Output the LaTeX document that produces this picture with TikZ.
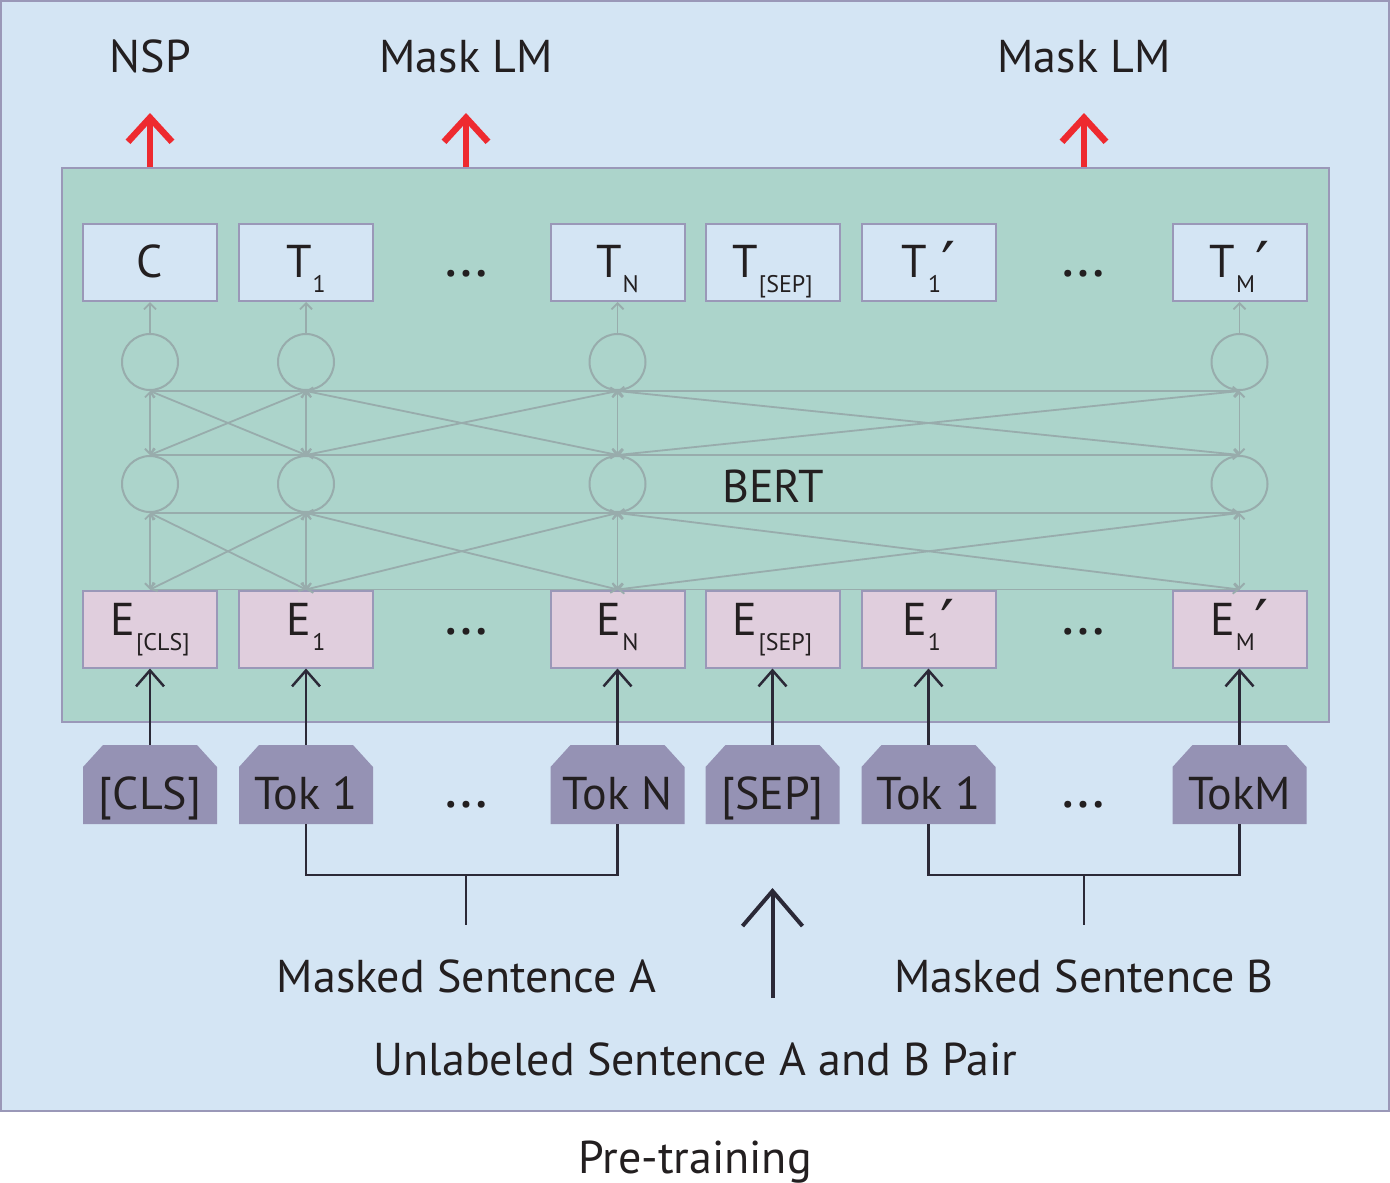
\documentclass[tikz,border=0pt]{standalone}
\usepackage{fontspec}
\setmainfont{PT Sans}
\newfontfamily\dejavu{DejaVu Sans}
\usetikzlibrary{arrows.meta}
\definecolor{outerbg}{HTML}{D4E5F4}
\definecolor{framec}{HTML}{9A98B8}
\definecolor{bertbg}{HTML}{ACD4CB}
\definecolor{tboxc}{HTML}{D4E5F4}
\definecolor{eboxc}{HTML}{E0CEDD}
\definecolor{tokc}{HTML}{9592B4}
\definecolor{netc}{HTML}{98ACAC}
\definecolor{redc}{HTML}{EE2A2F}
\definecolor{darkc}{HTML}{2B2937}
\definecolor{txtc}{HTML}{231F20}
\newcommand\bigf{\fontsize{46}{54}\selectfont}
\newcommand\subf{\fontsize{24}{28}\selectfont}
\newcommand\dotf{\fontsize{60}{60}\selectfont}
\newcommand\sbs[2]{#1\kern1pt\raisebox{-15pt}{\subf #2}}
\newcommand\sbp[2]{#1\kern1pt\raisebox{-15pt}{\subf #2}\kern0pt\raisebox{-9pt}{\dejavu\fontsize{62}{62}\selectfont ′}}
\begin{document}
\begin{tikzpicture}[x=1pt,y=-1pt,
  every node/.style={text=txtc, font=\bigf},
  outerbox/.style={draw=framec, line width=2pt, fill=outerbg, inner sep=0pt},
  bertbox/.style={draw=framec, line width=2pt, fill=bertbg, inner sep=0pt},
  tbox/.style={draw=framec, line width=2pt, fill=tboxc, minimum width=134pt, minimum height=77pt, inner sep=0pt, text height=40pt, text depth=11pt},
  ebox/.style={draw=framec, line width=2pt, fill=eboxc, minimum width=134pt, minimum height=77pt, inner sep=0pt, text height=35pt, text depth=23pt},
  tokbox/.style={rectangle, draw=none, minimum width=134pt, minimum height=79pt, inner sep=0pt, text height=55pt, text depth=6pt,
    path picture={\fill[tokc] ([yshift=-22pt]path picture bounding box.north west)
      -- ([xshift=20pt]path picture bounding box.north west)
      -- ([xshift=-20pt]path picture bounding box.north east)
      -- ([yshift=-22pt]path picture bounding box.north east)
      -- (path picture bounding box.south east)
      -- (path picture bounding box.south west) -- cycle;}},
  neuron/.style={circle, draw=netc, line width=2pt, minimum size=56pt, inner sep=0pt},
  netline/.style={netc, line width=1.8pt, >={Straight Barb[length=5pt,width=10pt]}, <->},
  netplain/.style={netc, line width=1.8pt},
  netup/.style={netc, line width=1.8pt, -{Straight Barb[length=6pt,width=12pt]}},
  redarrow/.style={redc, line width=6.5pt, -{Straight Barb[length=24pt,width=44pt]}},
  inarrow/.style={darkc, line width=2.5pt, -{Straight Barb[length=16pt,width=28pt]}},
  bigarrow/.style={darkc, line width=4pt, -{Straight Barb[length=35pt,width=60pt]}},
  bracket/.style={darkc, line width=2.5pt},
  lbl/.style={anchor=base, inner sep=0pt},
  dotlbl/.style={anchor=base, inner sep=0pt, font=\dotf}
]
\useasboundingbox (0,0) rectangle (1390,1183);
\node[outerbox, minimum width=1388pt, minimum height=1110pt] (frame) at (695,556) {};
\node[bertbox, minimum width=1267pt, minimum height=554pt] (bert) at (695.5,445) {};

% output boxes
\node[tbox] (tc) at (150,262.5) {C};
\node[tbox] (tone) at (306,262.5) {\sbs{T}{1}};
\node[tbox] (tn) at (617.5,262.5) {\sbs{T}{N}};
\node[tbox] (tsep) at (772.5,262.5) {\sbs{T}{[SEP]}};
\node[tbox] (tonep) at (928.5,262.5) {\sbp{T}{1}};
\node[tbox] (tmp) at (1239.5,262.5) {\sbp{T}{M}};
\node[dotlbl] (tdotsa) at (466,276) {…};
\node[dotlbl] (tdotsb) at (1083,276) {…};

% embedding boxes
\node[ebox] (ecls) at (150,629) {\sbs{E}{[CLS]}};
\node[ebox] (eone) at (306,629) {\sbs{E}{1}};
\node[ebox] (en) at (617.5,629) {\sbs{E}{N}};
\node[ebox] (esep) at (772.5,629) {\sbs{E}{[SEP]}};
\node[ebox] (eonep) at (928.5,629) {\sbp{E}{1}};
\node[ebox] (emp) at (1239.5,629) {\sbp{E}{M}};
\node[dotlbl] (edotsa) at (466,634) {…};
\node[dotlbl] (edotsb) at (1083,634) {…};

% tokens
\node[tokbox] (kcls) at (150,784.5) {[CLS]};
\node[tokbox] (kone) at (306,784.5) {Tok 1};
\node[tokbox] (kn) at (617.5,784.5) {Tok N};
\node[tokbox] (ksep) at (772.5,784.5) {[SEP]};
\node[tokbox] (konep) at (928.5,784.5) {Tok 1};
\node[tokbox] (km) at (1239.5,784.5) {TokM};
\node[dotlbl] (kdotsa) at (466,807) {…};
\node[dotlbl] (kdotsb) at (1083,807) {…};

% neurons
\node[neuron] (u1) at (150,362) {};
\node[neuron] (u2) at (306,362) {};
\node[neuron] (u3) at (617.5,362) {};
\node[neuron] (u4) at (1239.5,362) {};
\node[neuron] (l1) at (150,484) {};
\node[neuron] (l2) at (306,484) {};
\node[neuron] (l3) at (617.5,484) {};
\node[neuron] (l4) at (1239.5,484) {};

\draw[netplain] (u1.south) -- (u4.south);
\draw[netplain] (l1.north) -- (l4.north);
\draw[netplain] (l1.south) -- (l4.south);
\draw[netplain] (ecls.north) -- (emp.north);
% vertical links
\foreach \i in {1,...,4}{
  \draw[netline] (l\i.north) -- (u\i.south);
}
\foreach \e/\j in {ecls/1,eone/2,en/3,emp/4}{
  \draw[netline] (\e.north) -- (l\j.south);
}
% crossing links between neighbouring columns
\foreach \i/\j in {1/2,2/3,3/4}{
  \draw[netline] (l\i.north) -- (u\j.south);
  \draw[netline] (l\j.north) -- (u\i.south);
}
\foreach \a/\b/\i/\j in {ecls/eone/1/2,eone/en/2/3,en/emp/3/4}{
  \draw[netline] (\a.north) -- (l\j.south);
  \draw[netline] (\b.north) -- (l\i.south);
}
\draw[netup] (u1.north) -- (tc.south);
\draw[netup] (u2.north) -- (tone.south);
\draw[netup] (u3.north) -- (tn.south);
\draw[netup] (u4.north) -- (tmp.south);

\node[lbl] (bertlabel) at (773,502) {BERT};

% input arrows
\foreach \k/\e in {kcls/ecls,kone/eone,kn/en,ksep/esep,konep/eonep,km/emp}{
  \draw[inarrow] (\k.north) -- (\e.south);
}

% output labels and red arrows
\node[lbl] (nsp) at (150.5,72) {NSP};
\node[lbl] (mlma) at (466,72) {Mask LM};
\node[lbl] (mlmb) at (1084,72) {Mask LM};
\coordinate (rtipa) at (150,113);
\coordinate (rtipb) at (466,113);
\coordinate (rtipc) at (1084,113);
\draw[redarrow] (tc |- bert.north) -- (rtipa);
\draw[redarrow] (bert.north -| rtipb) -- (rtipb);
\draw[redarrow] (bert.north -| rtipc) -- (rtipc);

% brackets
\coordinate (bja) at (466,875);
\coordinate (bsa) at (466,925);
\coordinate (bjb) at (1084,875);
\coordinate (bsb) at (1084,925);
\draw[bracket] (kone.south) |- (bja) -| (kn.south);
\draw[bracket] (bja) -- (bsa);
\draw[bracket] (konep.south) |- (bjb) -| (km.south);
\draw[bracket] (bjb) -- (bsb);

\node[lbl] (msa) at (466.5,992) {Masked Sentence A};
\node[lbl] (msb) at (1084,992) {Masked Sentence B};
\coordinate (pairbot) at (772.5,998);
\coordinate (pairtop) at (772.5,888);
\draw[bigarrow] (pairbot) -- (pairtop);
\node[lbl] (pair) at (695.5,1075) {Unlabeled Sentence A and B Pair};
\node[lbl] (pretrain) at (695,1173) {Pre-training};
\end{tikzpicture}
\end{document}
